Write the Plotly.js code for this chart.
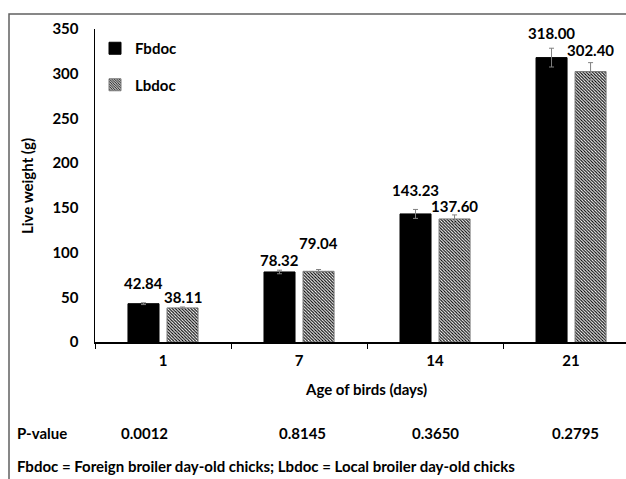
<!DOCTYPE html>
<html>
<head>
<meta charset="utf-8">
<script src="https://cdn.plot.ly/plotly-3.0.1.min.js"></script>
<style>html,body{margin:0;padding:0;background:#fff;}#chart{width:626px;height:479px;}</style>
</head>
<body>
<div id="chart"></div>
<script>
// ---- data ----
const ages = ["1", "7", "14", "21"];
const fbdoc = [42.84, 78.32, 143.23, 318.00];
const lbdoc = [38.11, 79.04, 137.60, 302.40];
const fbdocErr = [1.0, 2.0, 5.0, 10.5];
const lbdocErr = [1.0, 2.0, 4.5, 10.0];
const pValues = ["0.0012", "0.8145", "0.3650", "0.2795"];
const seriesNames = ["Fbdoc", "Lbdoc"];
const yTicks = [0, 50, 100, 150, 200, 250, 300, 350];
const xTitle = "Age of birds (days)";
const yTitle = "Live weight (g)";
const pLabel = "P-value";
const footnote = "Fbdoc = Foreign broiler day-old chicks; Lbdoc = Local broiler day-old chicks";

// ---- layout helpers (pixel geometry) ----
const W = 626, H = 479;
const M = {l: 95, r: 0, t: 29, b: 137};
const PW = W - M.l - M.r, PH = H - M.t - M.b;
const px = x => (x - M.l) / PW;            // pixel x -> paper x
const py = y => (H - M.b - y) / PH;        // pixel y -> paper y

const FONT = {family: "Lato, 'Open Sans', sans-serif", size: 15, color: "#000", weight: "bold"};

const traces = [
  {
    type: "bar", name: seriesNames[0], x: ages, y: fbdoc,
    legendgroup: "a",
    marker: {color: "#000", line: {color: "#000", width: 1}},
    error_y: {type: "data", array: fbdocErr, visible: true, color: "#808080", thickness: 1, width: 2.5}
  },
  {
    type: "bar", name: seriesNames[1], x: ages, y: lbdoc,
    legendgroup: "b",
    marker: {color: "#fff", line: {color: "#7a7a7a", width: 1},
             pattern: {shape: "\\", fgcolor: "#000", bgcolor: "#fff", size: 2.2, solidity: 0.5}},
    error_y: {type: "data", array: lbdocErr, visible: true, color: "#808080", thickness: 1, width: 2.5}
  }
];

// value-label lifts above bar tops (px), as placed in the original
const liftF = [21, 12, 24, 25];
const liftL = [11, 28, 13, 22];
const slot = 0.287; // distance between grouped bar centres in category units

const annotations = [];
ages.forEach((a, i) => {
  annotations.push({x: i - slot/2, xref: "x", y: fbdoc[i], yref: "y", yshift: liftF[i],
    text: fbdoc[i].toFixed(2), showarrow: false, font: FONT, yanchor: "middle"});
  annotations.push({x: i + slot/2, xref: "x", y: lbdoc[i], yref: "y", yshift: liftL[i],
    text: lbdoc[i].toFixed(2), showarrow: false, font: FONT, yanchor: "middle"});
});
// x title
annotations.push({x: px(366), xref: "paper", y: py(389), yref: "paper", text: xTitle,
  showarrow: false, font: FONT, xanchor: "center", yanchor: "middle"});
// y title
annotations.push({x: px(27), xref: "paper", y: py(186), yref: "paper", text: yTitle, textangle: -90,
  showarrow: false, font: FONT, xanchor: "center", yanchor: "middle"});
// P-value row
annotations.push({x: px(15), xref: "paper", y: py(433), yref: "paper", text: pLabel,
  showarrow: false, font: FONT, xanchor: "left", yanchor: "middle"});
const pX = [144, 302, 435, 575];
pValues.forEach((p, i) => {
  annotations.push({x: px(pX[i]), xref: "paper", y: py(433), yref: "paper", text: p,
    showarrow: false, font: FONT, xanchor: "center", yanchor: "middle"});
});
// footnote
annotations.push({x: px(15), xref: "paper", y: py(466), yref: "paper", text: footnote,
  showarrow: false, font: FONT, xanchor: "left", yanchor: "middle"});

const layout = {
  width: W, height: H,
  margin: M,
  paper_bgcolor: "#fff", plot_bgcolor: "#fff",
  font: FONT,
  barmode: "group", bargap: 0.426, bargroupgap: 0.205,
  showlegend: true,
  legend: {x: px(95), xanchor: "left", y: py(32), yanchor: "top",
           traceorder: "grouped", tracegroupgap: 14,
           font: FONT, bgcolor: "rgba(0,0,0,0)", borderwidth: 0},
  xaxis: {
    type: "category", range: [-0.5, 3.404], fixedrange: true,
    showline: true, linecolor: "#000", linewidth: 2,
    ticks: "outside", tickson: "boundaries", ticklen: 5, tickcolor: "#000", tickwidth: 1,
    ticklabelstandoff: 4,
    tickfont: FONT, showgrid: false, zeroline: false
  },
  yaxis: {
    range: [0, 350], tickvals: yTicks, fixedrange: true,
    showline: true, linecolor: "#000", linewidth: 1.5,
    ticks: "", ticklabelstandoff: 12,
    tickfont: FONT, showgrid: false, zeroline: false
  },
  shapes: [
    {type: "rect", xref: "paper", yref: "paper", x0: px(9), x1: px(640), y0: py(14), y1: py(500),
     line: {color: "#606060", width: 1.5}, fillcolor: "rgba(0,0,0,0)", layer: "below"}
  ],
  annotations: annotations
};

Plotly.newPlot("chart", traces, layout, {displayModeBar: false, staticPlot: true});
</script>
</body>
</html>
